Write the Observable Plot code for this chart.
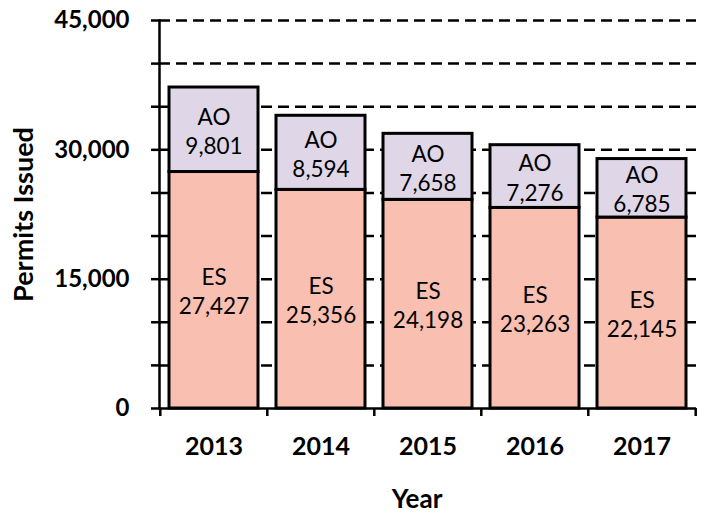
<!DOCTYPE html>
<html>
<head>
<meta charset="utf-8">
<script src="https://cdn.jsdelivr.net/npm/d3@7"></script>
<script src="https://cdn.jsdelivr.net/npm/@observablehq/plot@0.6"></script>
<style>
  html, body { margin: 0; padding: 0; background: #fff; }
  #chart svg { display: block; }
</style>
</head>
<body>
<div id="chart"></div>
<script>
// ---- data ----
const years = ["2013", "2014", "2015", "2016", "2017"];
const esValues = [27427, 25356, 24198, 23263, 22145];
const aoValues = [9801, 8594, 7658, 7276, 6785];
const seriesNames = ["ES", "AO"];
const seriesColors = ["#F9BFB0", "#DFD7E7"];
const yTickLabels = [0, 15000, 30000, 45000];
const yMinorTicks = [0, 5000, 10000, 15000, 20000, 25000, 30000, 35000, 40000, 45000];
const gridValues = [5000, 10000, 15000, 20000, 25000, 30000, 35000, 40000, 45000];
const yTitle = "Permits Issued";
const xTitle = "Year";

// ---- table ----
const rows = years.flatMap((yr, i) => [
  {year: yr, type: seriesNames[0], value: esValues[i]},
  {year: yr, type: seriesNames[1], value: aoValues[i]}
]);

const W = 704, H = 519;
const mL = 159, mR = 8, mT = 20, mB = 111;
const step = (W - mL - mR) / years.length;
const fmt = d3.format(",");
const font = "Lato, 'Open Sans', sans-serif";

const chart = Plot.plot({
  width: W,
  height: H,
  marginLeft: mL,
  marginRight: mR,
  marginTop: mT,
  marginBottom: mB,
  style: {fontFamily: font, color: "#000", background: "#fff"},
  x: {type: "band", domain: years, paddingInner: 0.17, paddingOuter: 0.085, axis: null},
  y: {domain: [0, 45000], axis: null},
  color: {domain: seriesNames, range: seriesColors},
  marks: [
    Plot.ruleY(gridValues, {stroke: "#000", strokeWidth: 2.5, strokeDasharray: "11,6"}),
    Plot.barY(rows, {x: "year", y: "value", fill: "type", stroke: "#000", strokeWidth: 3}),
    Plot.text(rows, Plot.stackY({
      x: "year", y: "value", z: "type",
      text: d => `${d.type}\n${fmt(d.value)}`,
      fontSize: 22.5, lineHeight: 1.3, fill: "#000"
    })),
    Plot.ruleY([0], {stroke: "#000", strokeWidth: 2.5}),
    Plot.frame({anchor: "left", stroke: "#000", strokeWidth: 2.5}),
    Plot.axisY({ticks: yMinorTicks, tickSize: 8, tickPadding: 22, strokeWidth: 2.5,
      tickFormat: d => yTickLabels.includes(d) ? fmt(d) : "",
      fontSize: 24, fontWeight: "bold", label: null}),
    Plot.axisX({tickSize: 0, tickPadding: 29, fontSize: 25, fontWeight: "bold", label: null}),
    Plot.ruleX(years, {x: d => d, dx: -step / 2, y1: 0, y2: 0, insetBottom: -8, stroke: "#000", strokeWidth: 2.5}),
    Plot.ruleX(years.slice(-1), {x: d => d, dx: step / 2, y1: 0, y2: 0, insetBottom: -8, stroke: "#000", strokeWidth: 2.5}),
    Plot.text([yTitle], {frameAnchor: "left", textAnchor: "middle", rotate: -90, dx: -135, fontSize: 27, fontWeight: "bold", text: d => d}),
    Plot.text([xTitle], {frameAnchor: "bottom", dx: -11, dy: 99, fontSize: 26, fontWeight: "bold", text: d => d})
  ]
});
document.getElementById("chart").appendChild(chart);
</script>
</body>
</html>
